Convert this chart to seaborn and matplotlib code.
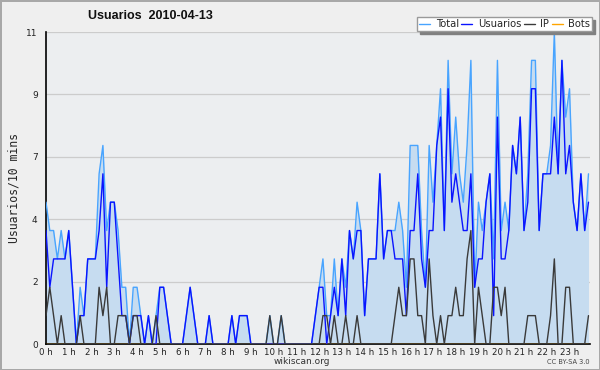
import numpy as np
import pandas as pd
import matplotlib
matplotlib.use("Agg")
import matplotlib.pyplot as plt
from matplotlib.ticker import MultipleLocator, FixedLocator, FixedFormatter
import seaborn as sns

# 10-minute slots over one day (144 slots)
usuarios = [4, 2, 3, 3, 3, 3, 4, 2, 0, 1,
            1, 3, 3, 3, 4, 6, 2, 5, 5, 3,
            1, 1, 0, 1, 1, 1, 0, 1, 0, 0,
            2, 2, 1, 0, 0, 0, 0, 1, 2, 1,
            0, 0, 0, 1, 0, 0, 0, 0, 0, 1,
            0, 1, 1, 1, 0, 0, 0, 0, 0, 0,
            0, 0, 0, 0, 0, 0, 0, 0, 0, 0,
            0, 1, 2, 2, 0, 1, 2, 1, 3, 1,
            4, 3, 4, 4, 1, 3, 3, 3, 6, 3,
            4, 4, 3, 3, 3, 1, 4, 4, 6, 3,
            2, 4, 4, 7, 8, 4, 9, 5, 6, 5,
            4, 4, 6, 2, 3, 3, 5, 6, 1, 8,
            3, 3, 4, 7, 6, 8, 4, 5, 9, 9,
            4, 6, 6, 6, 8, 6, 10, 6, 7, 5,
            4, 6, 4, 5]
ip = [1, 2, 1, 0, 1, 0, 0, 0, 0, 1,
      0, 0, 0, 0, 2, 1, 2, 0, 0, 1,
      1, 1, 0, 1, 1, 0, 0, 0, 0, 1,
      0, 0, 0, 0, 0, 0, 0, 0, 0, 0,
      0, 0, 0, 0, 0, 0, 0, 0, 0, 0,
      0, 0, 0, 0, 0, 0, 0, 0, 0, 1,
      0, 0, 1, 0, 0, 0, 0, 0, 0, 0,
      0, 0, 0, 1, 1, 0, 1, 0, 0, 1,
      0, 0, 1, 0, 0, 0, 0, 0, 0, 0,
      0, 0, 1, 2, 1, 1, 3, 3, 1, 1,
      0, 3, 1, 0, 1, 0, 1, 1, 2, 1,
      1, 3, 4, 0, 2, 1, 0, 0, 2, 2,
      1, 2, 0, 0, 0, 0, 0, 1, 1, 1,
      0, 0, 0, 1, 3, 0, 0, 2, 2, 0,
      0, 0, 0, 1]
total = [5, 4, 4, 3, 4, 3, 4, 2, 0, 2,
         1, 3, 3, 3, 6, 7, 4, 5, 5, 4,
         2, 2, 0, 2, 2, 1, 0, 1, 0, 1,
         2, 2, 1, 0, 0, 0, 0, 1, 2, 1,
         0, 0, 0, 1, 0, 0, 0, 0, 0, 1,
         0, 1, 1, 1, 0, 0, 0, 0, 0, 1,
         0, 0, 1, 0, 0, 0, 0, 0, 0, 0,
         0, 1, 2, 3, 1, 1, 3, 1, 3, 2,
         4, 3, 5, 4, 1, 3, 3, 3, 6, 3,
         4, 4, 4, 5, 4, 2, 7, 7, 7, 4,
         2, 7, 5, 7, 9, 4, 10, 6, 8, 6,
         5, 7, 10, 2, 5, 4, 5, 6, 3, 10,
         4, 5, 4, 7, 6, 8, 4, 6, 10, 10,
         4, 6, 6, 7, 11, 6, 10, 8, 9, 5,
         4, 6, 4, 6]
bots = [0] * 144

hour_labels = [f"{h} h" for h in range(24)]
ytick_vals = [0, 2.2, 4.4, 6.6, 8.8, 11]
ytick_labels = ["0", "2", "4", "7", "9", "11"]

df = pd.DataFrame({"slot": np.arange(len(total)), "Total": total,
                   "Usuarios": usuarios, "IP": ip, "Bots": bots})

sns.set_style("white")
plt.rcParams["font.family"] = ["DejaVu Sans"]

fig = plt.figure(figsize=(6, 3.7), dpi=100, facecolor="#efefef",
                 edgecolor="#a8a8a8", linewidth=2)
ax = fig.add_axes([46 / 600, 1 - 344 / 370, 544 / 600, 312 / 370])
ax.set_facecolor("#eceef0")

# filled area under total
ax.fill_between(df["slot"], df["Total"], 0, color="#c6dcf0", lw=0, zorder=1)
sns.lineplot(data=df, x="slot", y="Total", ax=ax, color="#48a4ff", lw=1, label="Total", zorder=3)
sns.lineplot(data=df, x="slot", y="Usuarios", ax=ax, color="#0a14ff", lw=1, label="Usuarios", zorder=4)
sns.lineplot(data=df, x="slot", y="Bots", ax=ax, color="#ffa500", lw=1, label="Bots", zorder=4)
sns.lineplot(data=df, x="slot", y="IP", ax=ax, color="#3a3a3a", lw=1, label="IP", zorder=5)

ax.set_xlim(0, 143.4)
ax.set_ylim(0, 11)

ax.xaxis.set_major_locator(FixedLocator(np.arange(0, 144, 6)))
ax.xaxis.set_major_formatter(FixedFormatter(hour_labels))
ax.xaxis.set_minor_locator(MultipleLocator(1))
ax.yaxis.set_major_locator(FixedLocator(ytick_vals))
ax.yaxis.set_major_formatter(FixedFormatter(ytick_labels))
ax.yaxis.set_minor_locator(MultipleLocator(0.55))

ax.tick_params(axis="x", which="major", direction="out", length=2.5, width=1,
               labelsize=6.2, pad=0.3, color="black")
ax.tick_params(axis="x", which="minor", direction="out", length=2.5, width=0.8, color="black")
ax.tick_params(axis="y", which="major", direction="out", length=5, width=1,
               labelsize=6.5, pad=1, color="black")
ax.tick_params(axis="y", which="minor", direction="out", length=3, width=0.8, color="black")
ax.tick_params(labelcolor="#222222")

ax.grid(axis="y", which="major", color="#cccccc", lw=0.9)
ax.set_axisbelow(True)
for s in ["top", "right"]:
    ax.spines[s].set_visible(False)
for s in ["left", "bottom"]:
    ax.spines[s].set_color("black")
    ax.spines[s].set_linewidth(1.2)

ax.set_xlabel("")
ax.set_ylabel("Usuarios/10 mins", fontsize=8.3, family="DejaVu Sans Mono", labelpad=4)

fig.text(88 / 600, 1 - 16 / 370, "Usuarios  2010-04-13", fontsize=9, fontweight="bold",
         family="Liberation Sans", ha="left", va="center", color="#111111")
fig.text(302 / 600, 1 - 362 / 370, "wikiscan.org", fontsize=6.5, ha="center", va="center",
         color="#333333")
fig.text(590 / 600, 1 - 362 / 370, "CC BY-SA 3.0", fontsize=4.8, ha="right", va="center",
         color="#444444")

handles, labels = ax.get_legend_handles_labels()
order = [labels.index(n) for n in ["Total", "Usuarios", "IP", "Bots"]]
leg = ax.legend([handles[i] for i in order], [labels[i] for i in order],
                loc="upper right", bbox_to_anchor=(592 / 600, 1 - 17 / 370),
                bbox_transform=fig.transFigure, ncol=4, fontsize=7.2, frameon=True,
                fancybox=False, shadow={"color": "#808080", "alpha": 1, "ox": 2, "oy": -2},
                borderaxespad=0, borderpad=0.2, handlelength=1.1, handletextpad=0.55,
                columnspacing=0.25)
leg.get_frame().set_edgecolor("#9a9a9a")
leg.get_frame().set_linewidth(1)
leg.get_frame().set_facecolor("white")
leg.set_zorder(10)

fig.savefig("out.png", dpi=100, facecolor=fig.get_facecolor(), edgecolor=fig.get_edgecolor())
